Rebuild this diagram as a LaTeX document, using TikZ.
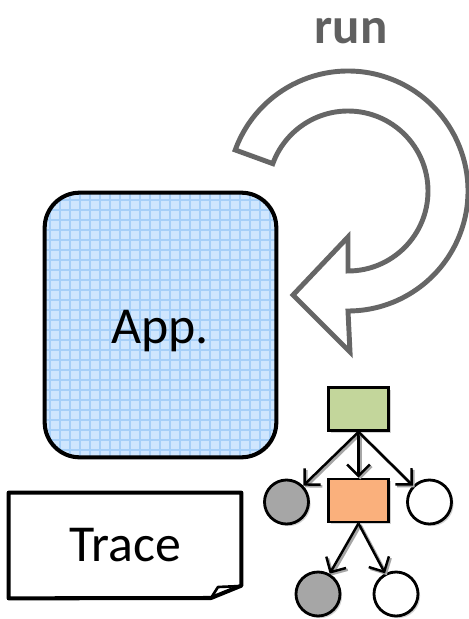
\documentclass[tikz,border=0pt]{standalone}
\usepackage{fontspec}
\setmainfont{Carlito}
\usetikzlibrary{arrows.meta,shadows}

\definecolor{appfill}{RGB}{207,230,254}
\definecolor{appgrid}{RGB}{166,207,248}
\definecolor{loopgray}{RGB}{102,102,102}
\definecolor{rungray}{RGB}{96,96,96}
\definecolor{rootfill}{RGB}{195,214,155}
\definecolor{callfill}{RGB}{250,176,124}
\definecolor{leafgray}{RGB}{166,166,166}

\begin{document}
\begin{tikzpicture}[x=0.02cm, y=0.02cm,
    bigtext/.style={font=\fontsize{29.5}{33}\selectfont},
    frame/.style={line width=2.3pt, line join=round},
    fn/.style={draw, line width=1.6pt, rectangle, minimum width=1.2cm, minimum height=0.86cm, inner sep=0pt,
        drop shadow={shadow xshift=1.2pt, shadow yshift=-1.2pt, opacity=0.35}},
    leaf/.style={draw, line width=1.6pt, circle, minimum size=0.88cm, inner sep=0pt,
        drop shadow={shadow xshift=1.2pt, shadow yshift=-1.2pt, opacity=0.35}},
    call/.style={line width=1.4pt, -{Straight Barb[length=6.5pt, width=13pt, line width=1.4pt]},
        preaction={draw=black!35, line width=1.8pt, transform canvas={shift={(1pt,-1pt)}}}}]
    \useasboundingbox (0,0) rectangle (468,-619);

    % application box with its grid paper
    \node[minimum width=4.62cm, minimum height=5.28cm, inner sep=0pt] (app) at (160.5,-325) {};
    \begin{scope}
        \clip[rounded corners=0.7cm] (app.south west) rectangle (app.north east);
        \fill[appfill] (app.south west) rectangle (app.north east);
        \draw[appgrid, line width=0.6pt] (0,-600) grid[step=10] (300,-100);
    \end{scope}
    \draw[frame, rounded corners=0.7cm] (app.south west) rectangle (app.north east);
    \node[bigtext, anchor=base] (applabel) at (160,-343) {App.};

    % the run loop
    \node[font=\fontsize{29}{32}\selectfont\bfseries, text=rungray, anchor=base] (run) at (351,-43) {run};
    \draw[loopgray, line width=2.8pt, line join=miter, fill=white]
        (348,-191) ++(160:120) arc[start angle=160, end angle=-90, radius=120]
        -- (350,-352) -- (293,-295) -- (348,-237) -- (348,-271)
        arc[start angle=-90, end angle=160, radius=80] -- cycle;

    % trace sheet with its curled corner
    \node[bigtext, minimum width=4.64cm, minimum height=2.1cm, inner sep=0pt] (trace) at (125,-545.5) {Trace};
    \draw[frame] (trace.north west) -- (trace.north east) -- ++(0,-93) -- (211,-598) -- (trace.south west) -- cycle;
    \draw[frame, line width=1.5pt] (211,-598) -- (218,-587) -- (241,-586);

    % call tree
    \node[fn, fill=rootfill] (root) at (358.5,-409) {};
    \node[fn, fill=callfill] (mid) at (358.5,-500.5) {};
    \node[leaf, fill=leafgray] (l1) at (286.5,-502) {};
    \node[leaf, fill=white] (r1) at (429.5,-502) {};
    \node[leaf, fill=leafgray] (l2) at (318,-594) {};
    \node[leaf, fill=white] (r2) at (396,-594) {};

    \draw[call] (root.south) -- (l1);
    \draw[call] (root.south) -- (mid);
    \draw[call] (root.south) -- (r1);
    \draw[call] (mid.south) -- (l2);
    \draw[call] (mid.south) -- (r2);
\end{tikzpicture}
\end{document}
